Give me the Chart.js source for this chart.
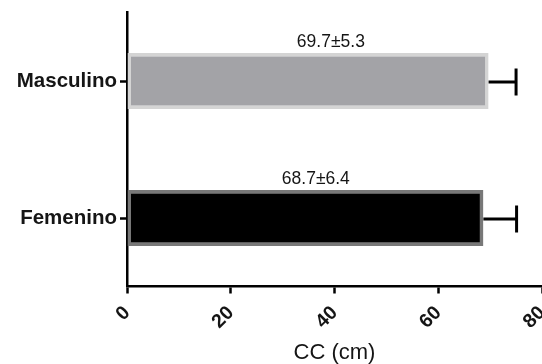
<!DOCTYPE html>
<html>
<head>
<meta charset="utf-8">
<script src="https://cdn.jsdelivr.net/npm/chart.js@4/dist/chart.umd.min.js"></script>
<style>
  html, body { margin: 0; padding: 0; background: #ffffff; overflow: hidden; }
  #wrap { width: 542px; height: 364px; }
</style>
</head>
<body>
<div id="wrap"><canvas id="cc"></canvas></div>
<script>
// Circunferencia de cintura por sexo (media ± DE)
const categories = ['Masculino', 'Femenino'];
const means = [69.7, 68.7];
const sds = [5.3, 6.4];
const xTicks = [0, 20, 40, 60, 80];

const fills = ['#a3a3a7', '#000000'];
const borders = ['#d4d4d4', '#787878'];

const FONT = '"Liberation Sans", Arial, sans-serif';

// Error bars (one-sided, to the right) and "mean±sd" labels above each bar
const errorBarPlugin = {
  id: 'errorBars',
  afterDatasetsDraw(chart, args, opts) {
    const ctx = chart.ctx;
    const xs = chart.scales.x;
    const meta = chart.getDatasetMeta(0);
    ctx.save();
    meta.data.forEach((bar, i) => {
      const y = bar.y + 1;
      const x0 = xs.getPixelForValue(means[i]);
      const x1 = xs.getPixelForValue(means[i] + sds[i]);
      ctx.strokeStyle = '#000';
      ctx.lineWidth = 3;
      ctx.beginPath();
      ctx.moveTo(x0, y);
      ctx.lineTo(x1, y);
      ctx.stroke();
      ctx.beginPath();
      ctx.moveTo(x1, y - 13.5);
      ctx.lineTo(x1, y + 13.5);
      ctx.stroke();

      // value label
      const top = bar.y - bar.height / 2;
      ctx.fillStyle = '#151515';
      ctx.font = '17.5px ' + FONT;
      ctx.textAlign = 'center';
      ctx.textBaseline = 'alphabetic';
      const lx = xs.getPixelForValue(opts.labelAt[i]);
      ctx.fillText(means[i].toFixed(1) + '\u00B1' + sds[i].toFixed(1), lx, top - 6);
    });
    ctx.restore();
  }
};

new Chart(document.getElementById('cc'), {
  type: 'bar',
  data: {
    labels: categories,
    datasets: [{
      data: means,
      backgroundColor: fills,
      borderColor: borders,
      borderWidth: 3.5,
      borderSkipped: false,
      barPercentage: 0.41,
      categoryPercentage: 1.0
    }]
  },
  options: {
    indexAxis: 'y',
    responsive: true,
    maintainAspectRatio: false,
    animation: false,
    layout: { padding: { top: 12.5, right: 0, left: 0, bottom: 0 } },
    plugins: {
      legend: { display: false },
      tooltip: { enabled: false },
      errorBars: { labelAt: [39.3, 36.4] }
    },
    scales: {
      x: {
        min: 0,
        max: 80,
        afterBuildTicks(scale) { scale.ticks = xTicks.map(v => ({ value: v })); },
        afterFit(scale) {
          scale.height = 77.5;
          scale.paddingLeft = 0;
          scale.paddingRight = 0;
        },
        border: { display: true, color: '#000', width: 2.5 },
        grid: { drawOnChartArea: false, drawTicks: true, tickLength: 7, tickWidth: 2.5, tickColor: '#000' },
        ticks: {
          minRotation: 45,
          maxRotation: 45,
          padding: 8,
          color: '#151515',
          font: { family: FONT, size: 19.5, weight: 'bold' }
        },
        title: {
          display: true,
          text: 'CC (cm)',
          color: '#151515',
          padding: { top: 0, bottom: 0.5 },
          font: { family: FONT, size: 22, weight: 'normal', lineHeight: 1.0 }
        }
      },
      y: {
        afterFit(scale) {
          scale.width = 127;
          scale.paddingTop = 0;
          scale.paddingBottom = 0;
        },
        border: { display: true, color: '#000', width: 2.5 },
        grid: { offset: false, drawOnChartArea: false, drawTicks: true, tickLength: 7, tickWidth: 2.5, tickColor: '#000' },
        ticks: {
          padding: 3,
          color: '#151515',
          font: { family: FONT, size: 20.5, weight: 'bold' }
        }
      }
    }
  },
  plugins: [errorBarPlugin]
});
</script>
</body>
</html>
